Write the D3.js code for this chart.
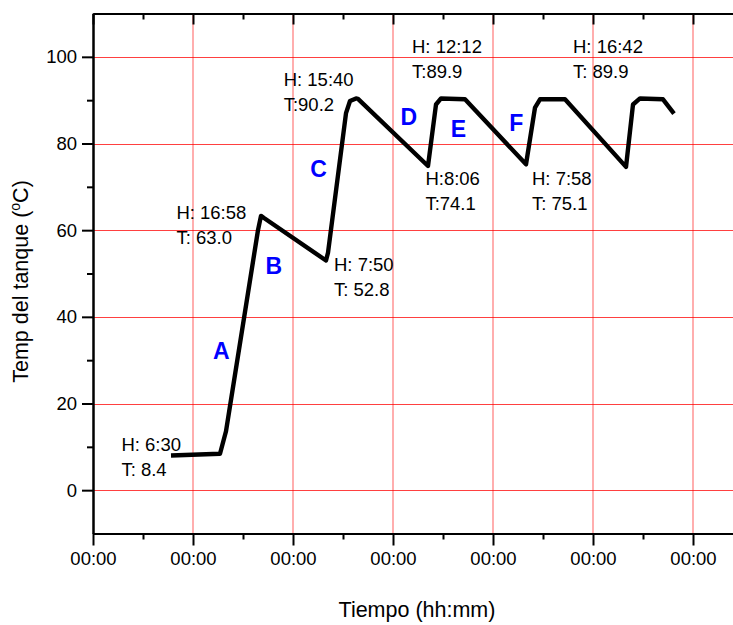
<!DOCTYPE html>
<html>
<head>
<meta charset="utf-8">
<script src="https://cdn.jsdelivr.net/npm/d3@7"></script>
<style>
  body { margin: 0; background: #fff; }
  text { font-family: "Liberation Sans", Arial, sans-serif; }
</style>
</head>
<body>
<div id="chart"></div>
<script>
// time in grid divisions (the original axis shows only "00:00")
var timeVals = [0.78, 1.27, 1.33, 1.37, 1.65, 1.68, 1.71, 2.33, 2.35, 2.53, 2.57, 2.63, 2.65, 3.35, 3.43, 3.48, 3.72, 4.33, 4.42, 4.47, 4.72, 5.33, 5.40, 5.47, 5.70, 5.81];
var tempVals = [8.0, 8.4, 13.6, 19.4, 60.0, 63.3, 62.8, 53.0, 54.8, 87.0, 89.8, 90.4, 90.3, 74.8, 89.0, 90.4, 90.2, 75.2, 88.3, 90.2, 90.2, 74.6, 89.0, 90.4, 90.2, 86.9];

var xMajor = [0, 1, 2, 3, 4, 5, 6];
var xMinor = [0.5, 1.5, 2.5, 3.5, 4.5, 5.5];
var xTickLabel = "00:00";
var yMajor = [0, 20, 40, 60, 80, 100];
var yMinor = [10, 30, 50, 70, 90];

// annotations: first line, second line, anchor (t, temp)
var noteLine1 = ["H: 6:30", "H: 16:58", "H: 15:40", "H: 7:50", "H: 12:12", "H:8:06", "H: 7:58", "H: 16:42"];
var noteLine2 = ["T: 8.4", "T: 63.0", "T:90.2", "T: 52.8", "T:89.9", "T:74.1", "T: 75.1", "T: 89.9"];
var noteT = [0.284, 0.834, 1.907, 2.41, 3.19, 3.324, 4.39, 4.80];
var noteY = [9.0, 62.5, 93.2, 50.5, 100.9, 70.4, 70.4, 100.9];

var stageNames = ["A", "B", "C", "D", "E", "F"];
var stageT = [1.282, 1.807, 2.255, 3.157, 3.655, 4.233];
var stageY = [30.2, 49.8, 72.2, 84.2, 81.6, 83.0];

var chart = {
  width: 733,
  height: 625,
  top: 13.5,
  bottom: 533.5,
  left: 93,
  right: 738,
}

var svg = d3.select("#chart")
  .append("svg")
  .attr("width", chart.width)
  .attr("height", chart.height);

var x = d3.scaleLinear()
  .domain([0, 6.45])
  .range([chart.left, chart.right]);

var y = d3.scaleLinear()
  .domain([-10, 110])
  .range([chart.bottom, chart.top]);

/* grid */
var grid = svg.append("g");
grid.selectAll(".hgrid")
  .data(yMajor)
  .enter()
  .append("line")
  .attr("x1", chart.left)
  .attr("x2", chart.right)
  .attr("y1", (d) => Math.round(y(d)) + 0.5)
  .attr("y2", (d) => Math.round(y(d)) + 0.5)
  .style("stroke", "#ff0000")
  .style("stroke-opacity", 0.75)
  .style("stroke-width", 1);

grid.selectAll(".vgrid")
  .data(xMajor.slice(1))
  .enter()
  .append("line")
  .attr("x1", (d) => x(d))
  .attr("x2", (d) => x(d))
  .attr("y1", chart.top)
  .attr("y2", chart.bottom)
  .style("stroke", "#ff0000")
  .style("stroke-opacity", 0.4)
  .style("stroke-width", 1.6);

/* axes */
function styleAxis(g) {
  g.select(".domain").style("stroke-width", 2);
  g.selectAll(".tick line").style("stroke-width", 2);
  g.selectAll("text").style("font-size", "18.5px").style("font-family", "'Liberation Sans', Arial, sans-serif").style("fill", "#000");
}

svg.append("g")
  .attr("transform", `translate(0, ${chart.bottom})`)
  .call(d3.axisBottom(x).tickValues(xMajor).tickSize(12).tickSizeOuter(0).tickPadding(6).tickFormat(() => xTickLabel))
  .call(styleAxis);
svg.append("g")
  .attr("transform", `translate(0, ${chart.bottom})`)
  .call(d3.axisBottom(x).tickValues(xMinor).tickSize(6).tickSizeOuter(0).tickFormat(""))
  .call(styleAxis);

// top axis, ticks pointing in
svg.append("g")
  .attr("transform", `translate(0, ${chart.top})`)
  .call(d3.axisBottom(x).tickValues(xMajor).tickSize(11).tickSizeOuter(0).tickFormat(""))
  .call(styleAxis);
svg.append("g")
  .attr("transform", `translate(0, ${chart.top})`)
  .call(d3.axisBottom(x).tickValues(xMinor).tickSize(6).tickSizeOuter(0).tickFormat(""))
  .call(styleAxis);

svg.append("g")
  .attr("transform", `translate(${chart.left}, 0)`)
  .call(d3.axisLeft(y).tickValues(yMajor).tickSize(11).tickSizeOuter(0).tickPadding(5))
  .call(styleAxis);
svg.append("g")
  .attr("transform", `translate(${chart.left}, 0)`)
  .call(d3.axisLeft(y).tickValues(yMinor).tickSize(6).tickSizeOuter(0).tickFormat(""))
  .call(styleAxis);

/* curve */
var points = timeVals.map((t, i) => [t, tempVals[i]]);
svg.append("path")
  .datum(points)
  .attr("d", d3.line().x((d) => x(d[0])).y((d) => y(d[1])))
  .style("fill", "none")
  .style("stroke", "#000")
  .style("stroke-width", 4.4)
  .style("stroke-linejoin", "round");

/* annotations */
var notes = svg.append("g");
noteLine1.forEach((txt, i) => {
  var t = notes.append("text")
    .attr("x", x(noteT[i]))
    .attr("y", y(noteY[i]))
    .style("font-size", "18.5px")
    .style("fill", "#000");
  t.append("tspan").attr("x", x(noteT[i])).text(txt);
  t.append("tspan").attr("x", x(noteT[i])).attr("dy", 24.8).text(noteLine2[i]);
});

svg.append("g")
  .selectAll("text")
  .data(stageNames)
  .enter()
  .append("text")
  .attr("x", (d, i) => x(stageT[i]))
  .attr("y", (d, i) => y(stageY[i]))
  .attr("text-anchor", "middle")
  .style("font-size", "23px")
  .style("font-weight", "bold")
  .style("fill", "#0000ff")
  .text((d) => d);

/* axis titles */
svg.append("text")
  .attr("x", 417)
  .attr("y", 617)
  .attr("text-anchor", "middle")
  .style("font-size", "21.5px")
  .text("Tiempo (hh:mm)");

var yTitle = svg.append("text")
  .attr("transform", `translate(28, ${(chart.top + chart.bottom) / 2 + 8}) rotate(-90)`)
  .attr("text-anchor", "middle")
  .style("font-size", "21.5px");
yTitle.append("tspan").text("Temp del tanque (");
yTitle.append("tspan").attr("dy", -8).style("font-size", "14px").text("o");
yTitle.append("tspan").attr("dy", 8).text("C)");
</script>
</body>
</html>
